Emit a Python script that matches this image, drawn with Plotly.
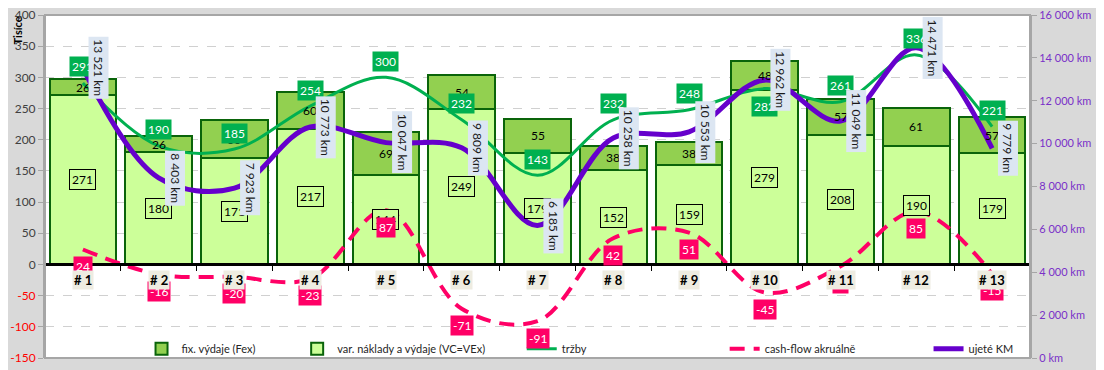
import plotly.graph_objects as go

categories = ["# 1", "# 2", "# 3", "# 4", "# 5", "# 6", "# 7", "# 8", "# 9", "# 10", "# 11", "# 12", "# 13"]
var_costs = [271, 180, 171, 217, 144, 249, 179, 152, 159, 279, 208, 190, 179]
fix_costs = [26, 26, 60, 60, 69, 54, 55, 38, 38, 48, 57, 61, 57]
revenue = [291, 190, 185, 254, 300, 232, 143, 232, 248, 282, 261, 336, 221]
cashflow = [24, -16, -20, -23, 87, -71, -91, 42, 51, -45, -3, 85, -15]
km = [13521, 8403, 7923, 10773, 10047, 9809, 6185, 10258, 10553, 12962, 11049, 14471, 9779]
left_ticks = [-150, -100, -50, 0, 50, 100, 150, 200, 250, 300, 350, 400]

FONT = "Lato"
BAR_LINE = "#0a640a"
GREEN = "#00b050"
PINK = "#ff0066"
PURPLE = "#6600cc"
PURPLE_TXT = "#7a30c8"


def km_txt(v):
    return f"{v:,}".replace(",", " ") + " km"


fig = go.Figure()
fig.add_trace(go.Bar(
    x=categories, y=var_costs, name="var. náklady a výdaje (VC=VEx)",
    marker=dict(color="#ccff99", line=dict(color=BAR_LINE, width=2)),
    width=0.88, legend="legend2",
))
fig.add_trace(go.Bar(
    x=categories, y=fix_costs, name="fix. výdaje (Fex)",
    marker=dict(color="#92d050", line=dict(color=BAR_LINE, width=2)),
    width=0.88, legend="legend",
))
fig.add_trace(go.Scatter(
    x=categories, y=revenue, name="tržby", mode="lines",
    line=dict(color=GREEN, width=3, shape="spline", smoothing=1.0),
    legend="legend3",
))
fig.add_trace(go.Scatter(
    x=categories, y=cashflow, name="cash-flow akruálně", mode="lines",
    line=dict(color=PINK, width=4, dash="15px,9px", shape="spline", smoothing=1.0),
    legend="legend4",
))
fig.add_trace(go.Scatter(
    x=categories, y=km, name="ujeté KM", mode="lines", yaxis="y2",
    line=dict(color=PURPLE, width=5, shape="spline", smoothing=1.0),
    legend="legend5",
))

ann = []
# variable cost boxes
for c, v in zip(categories, var_costs):
    ann.append(dict(x=c, y=v / 2, text=str(v), showarrow=False,
                    bgcolor="#ccff99", bordercolor="black", borderwidth=1, borderpad=2,
                    font=dict(size=12, color="black")))
# fixed cost labels
for c, v, f in zip(categories, var_costs, fix_costs):
    ann.append(dict(x=c, y=v + f / 2, text=str(f), showarrow=False,
                    font=dict(size=12, color="black")))
# revenue labels
for i, (c, r) in enumerate(zip(categories, revenue)):
    shift = -18 if i == 9 else 16
    ann.append(dict(x=c, y=r, yshift=shift, text=str(r), showarrow=False,
                    bgcolor=GREEN, borderpad=2, font=dict(size=12, color="white")))
# km labels
for c, k in zip(categories, km):
    ann.append(dict(x=c, y=k, yref="y2", xshift=16, text=km_txt(k), textangle=90,
                    showarrow=False, bgcolor="#dce6f2", borderpad=2,
                    font=dict(size=12, color="#1a1a1a")))
# cash-flow labels
for c, v in zip(categories, cashflow):
    ann.append(dict(x=c, y=v, yshift=-17, text=str(v), showarrow=False,
                    bgcolor=PINK, borderpad=2, font=dict(size=12, color="white")))
# category labels
for c in categories:
    ann.append(dict(x=c, y=0, yshift=-16, text=f"<b>{c}</b>", showarrow=False,
                    bgcolor="#eeece1", borderpad=1, font=dict(size=13, color="black")))
ann.append(dict(xref="paper", yref="paper", x=-0.0284, y=0.955, xanchor="center",
                yanchor="middle", text="<b>Tisíce</b>", textangle=-90, showarrow=False,
                font=dict(size=11, color="black")))

legend_common = dict(orientation="h", yanchor="middle", y=0.027, xanchor="left",
                     bgcolor="rgba(0,0,0,0)", font=dict(size=11, color="#262626", family=FONT))

ticktext = [f'<span style="color:#ff0000">{t}</span>' if t < 0 else str(t) for t in left_ticks]

# page body has an 8px margin, so the figure is 8px smaller than the window
fig.update_layout(
    width=1096, height=362,
    margin=dict(l=37, r=74, t=7, b=12, autoexpand=False),
    paper_bgcolor="#d9d9d9", plot_bgcolor="white",
    font=dict(family=FONT, size=12, color="#404040"),
    barmode="stack", separators=", ",
    showlegend=True,
    legend=dict(legend_common, x=0.098),
    legend2=dict(legend_common, x=0.256),
    legend3=dict(legend_common, x=0.484),
    legend4=dict(legend_common, x=0.690),
    legend5=dict(legend_common, x=0.897),
    xaxis=dict(
        anchor="free", position=150 / 550, showline=True, linecolor="black", linewidth=3,
        ticks="outside", tickson="boundaries", ticklen=5, tickcolor="black",
        showticklabels=False, showgrid=False, zeroline=False, automargin=False,
    ),
    yaxis=dict(
        range=[-150, 400], tickvals=left_ticks, ticktext=ticktext,
        showgrid=True, gridcolor="#d0d0d0", griddash="dash", zeroline=False,
        showline=True, linecolor="#a6a6a6", linewidth=2,
        ticks="outside", ticklen=5, tickcolor="#a6a6a6", automargin=False,
        tickfont=dict(size=12, color="#404040"), ticklabeloverflow="allow",
    ),
    yaxis2=dict(
        range=[0, 16000], dtick=2000, overlaying="y", side="right",
        tickformat=",d", ticksuffix=" km", showgrid=False, zeroline=False,
        showline=True, linecolor="#a6a6a6", linewidth=2, automargin=False,
        ticks="outside", ticklen=5, tickcolor="#a6a6a6",
        tickfont=dict(size=11, color=PURPLE_TXT), ticklabeloverflow="allow",
    ),
    annotations=ann,
    shapes=[dict(type="rect", xref="paper", yref="paper", x0=0, x1=1, y0=0, y1=1,
                 line=dict(color="#a6a6a6", width=2))],
)

fig.write_html("out.html")
